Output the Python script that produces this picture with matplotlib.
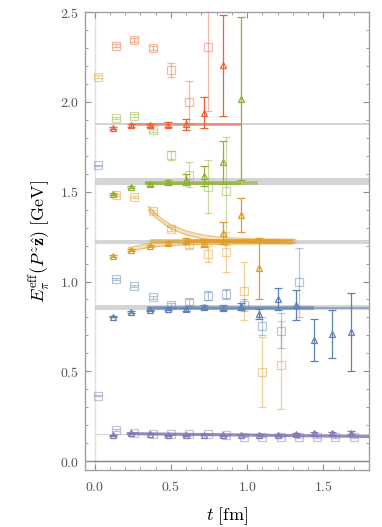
import numpy as np
import matplotlib
matplotlib.use('Agg')
import matplotlib.pyplot as plt
from matplotlib.ticker import MultipleLocator, FuncFormatter

plt.rcParams['mathtext.fontset'] = 'cm'
plt.rcParams['font.family'] = 'serif'

# Time slices (fm): triangles and the shifted squares
t_tri = [0.12, 0.24, 0.36, 0.48, 0.60, 0.72, 0.84, 0.96, 1.08, 1.20, 1.32, 1.44, 1.56, 1.68]
t_sq = [0.02, 0.14, 0.26, 0.38, 0.50, 0.62, 0.74, 0.86, 0.98, 1.10, 1.22, 1.34, 1.46, 1.58, 1.70]

# Red (highest momentum)
red_tri = [1.856, 1.869, 1.869, 1.874, 1.876, 1.941, 2.203]
red_tri_err = [0.006, 0.006, 0.008, 0.015, 0.030, 0.085, 0.280]
red_sq = [2.312, 2.346, 2.300, 2.177, 1.999, 2.307]
red_sq_err = [0.008, 0.010, 0.012, 0.040, 0.116, 0.360]

# Green
green_tri = [1.488, 1.524, 1.542, 1.553, 1.566, 1.589, 1.663, 2.019]
green_tri_err = [0.005, 0.006, 0.008, 0.014, 0.030, 0.056, 0.120, 0.455]
green_sq = [1.911, 1.924, 1.841, 1.702, 1.594, 1.529, 1.505]
green_sq_err = [0.007, 0.008, 0.010, 0.025, 0.070, 0.147, 0.300]

# Orange
orange_tri = [1.143, 1.176, 1.199, 1.212, 1.228, 1.214, 1.270, 1.370, 1.075]
orange_tri_err = [0.005, 0.005, 0.006, 0.008, 0.012, 0.020, 0.060, 0.096, 0.170]
orange_sq = [2.141, 1.483, 1.470, 1.390, 1.293, 1.204, 1.152, 1.162, 0.948, 0.495, 0.535]
orange_sq_err = [0.008, 0.006, 0.007, 0.008, 0.010, 0.020, 0.044, 0.111, 0.160, 0.196, 0.243]

# Blue
blue_tri = [0.805, 0.831, 0.839, 0.846, 0.846, 0.857, 0.855, 0.861, 0.818, 0.904, 0.867, 0.675, 0.709, 0.718]
blue_tri_err = [0.004, 0.004, 0.005, 0.006, 0.008, 0.010, 0.015, 0.020, 0.028, 0.060, 0.083, 0.119, 0.135, 0.216]
blue_sq = [1.646, 1.015, 0.976, 0.913, 0.870, 0.887, 0.922, 0.931, 0.870, 0.753, 0.727, 0.995]
blue_sq_err = [0.005, 0.006, 0.007, 0.009, 0.012, 0.018, 0.025, 0.030, 0.035, 0.050, 0.095, 0.190]

# Purple (zero momentum)
purple_tri = [0.145, 0.156, 0.152, 0.145, 0.145, 0.148, 0.143, 0.148, 0.148, 0.145, 0.152, 0.154, 0.156, 0.158]
purple_tri_err = [0.003, 0.003, 0.003, 0.003, 0.003, 0.004, 0.004, 0.005, 0.005, 0.006, 0.006, 0.007, 0.008, 0.009]
purple_sq = [0.365, 0.174, 0.159, 0.152, 0.149, 0.149, 0.149, 0.145, 0.137, 0.137, 0.137, 0.136, 0.134, 0.133, 0.132]
purple_sq_err = [0.005, 0.004, 0.003, 0.003, 0.003, 0.003, 0.003, 0.003, 0.004, 0.004, 0.004, 0.005, 0.005, 0.005, 0.006]

# Dispersion-relation gray bands (lo, hi)
gray_bands = [(0.147, 0.153), (0.841, 0.869), (1.210, 1.232), (1.538, 1.576), (1.872, 1.880)]

# Constant fit bands: (t_start, t_end, lo, hi)
red_fits = [(0.24, 0.96, 1.866, 1.884)]
green_fits = [(0.33, 0.96, 1.540, 1.556), (0.33, 1.07, 1.537, 1.559)]
orange_fits = [(0.36, 1.30, 1.214, 1.234), (0.60, 1.22, 1.216, 1.238)]
blue_fits = [(0.34, 1.80, 0.845, 0.857), (0.34, 1.44, 0.841, 0.861)]
purple_fit_t = [0.22, 1.80]
purple_fit_v = [0.153, 0.137]

# Orange two-state fit curves
orange_down_t = [0.35, 0.40, 0.45, 0.50, 0.60, 0.70, 0.80, 0.90, 1.00, 1.10, 1.20, 1.32]
orange_down_v = [1.409, 1.367, 1.333, 1.305, 1.271, 1.250, 1.238, 1.232, 1.228, 1.226, 1.225, 1.224]
orange_up_t = [0.22, 0.26, 0.30, 0.36, 0.45, 0.55, 0.70, 0.90, 1.10, 1.30]
orange_up_v = [1.176, 1.185, 1.192, 1.201, 1.209, 1.214, 1.217, 1.219, 1.220, 1.220]

RED = '#EB6235'
GREEN = '#8FB032'
ORANGE = '#E19C24'
BLUE = '#5E81B5'
PURPLE = '#8778B3'


def draw_points(ax, t, e, err, color, marker, alpha, ms):
    ax.errorbar(t[:len(e)], e, yerr=err, fmt=marker, color=color, mfc='none',
                mec=color, ms=ms, mew=0.9, elinewidth=0.9, capsize=3,
                capthick=0.9, alpha=alpha, zorder=4)


def draw_fits(ax, fits, color):
    for t0, t1, lo, hi in fits:
        ax.fill_between([t0, t1], [lo, lo], [hi, hi], color=color,
                        alpha=0.55, lw=0, zorder=3)


fig = plt.figure(figsize=(3.82, 5.27), dpi=100)
ax = fig.add_axes([0.2225, 0.108, 0.7435, 0.869])

ax.set_xlim(-0.064, 1.80)
ax.set_ylim(-0.05, 2.5)

# reference axes lines
ax.axvline(0, color='#e0e0e0', lw=1, zorder=0)
ax.axhline(0, color='#808080', lw=1, zorder=1)

for lo, hi in gray_bands:
    ax.fill_between([0, 1.85], [lo, lo], [hi, hi], color='#c8c8c8',
                    alpha=0.75, lw=0, zorder=1)

draw_fits(ax, red_fits, RED)
draw_fits(ax, green_fits, GREEN)
draw_fits(ax, orange_fits, ORANGE)
draw_fits(ax, blue_fits, BLUE)
ax.plot(purple_fit_t, purple_fit_v, color=PURPLE, lw=2.2, alpha=0.85, zorder=3)

# orange curved fits
for ct, cv in [(orange_down_t, orange_down_v), (orange_up_t, orange_up_v)]:
    ct = np.array(ct)
    cv = np.array(cv)
    ax.fill_between(ct, cv - 0.011, cv + 0.011, color=ORANGE, alpha=0.3, lw=0, zorder=3)
    ax.plot(ct, cv - 0.011, color=ORANGE, lw=0.8, alpha=0.6, zorder=3)
    ax.plot(ct, cv + 0.011, color=ORANGE, lw=0.8, alpha=0.6, zorder=3)

# squares (lighter) then triangles
draw_points(ax, t_sq[1:], red_sq, red_sq_err, RED, 's', 0.45, 6)
draw_points(ax, t_sq[1:], green_sq, green_sq_err, GREEN, 's', 0.45, 6)
draw_points(ax, t_sq, orange_sq, orange_sq_err, ORANGE, 's', 0.45, 6)
draw_points(ax, t_sq, blue_sq, blue_sq_err, BLUE, 's', 0.45, 6)
draw_points(ax, t_sq, purple_sq, purple_sq_err, PURPLE, 's', 0.45, 6)

draw_points(ax, t_tri, red_tri, red_tri_err, RED, '^', 1.0, 5)
draw_points(ax, t_tri, green_tri, green_tri_err, GREEN, '^', 1.0, 5)
draw_points(ax, t_tri, orange_tri, orange_tri_err, ORANGE, '^', 1.0, 5)
draw_points(ax, t_tri, blue_tri, blue_tri_err, BLUE, '^', 1.0, 5)
draw_points(ax, t_tri, purple_tri, purple_tri_err, PURPLE, '^', 1.0, 5)

# frame styling
for sp in ax.spines.values():
    sp.set_color('#a0a0a0')
    sp.set_linewidth(1.0)

ax.xaxis.set_major_locator(MultipleLocator(0.5))
ax.xaxis.set_minor_locator(MultipleLocator(0.1))
ax.yaxis.set_major_locator(MultipleLocator(0.5))
ax.yaxis.set_minor_locator(MultipleLocator(0.1))
fmt = FuncFormatter(lambda v, p: r'$%.1f$' % v)
ax.xaxis.set_major_formatter(fmt)
ax.yaxis.set_major_formatter(fmt)
ax.tick_params(which='both', direction='in', top=True, right=True,
               color='#909090', labelcolor='#555555', labelsize=10)
ax.tick_params(which='major', length=4, width=0.8)
ax.tick_params(which='minor', length=2, width=0.6)
ax.tick_params(axis='x', pad=7)
ax.tick_params(axis='y', pad=4)

ax.set_xlabel(r'$t\ [\mathrm{fm}]$', fontsize=13, labelpad=8)
ax.set_ylabel(r'$E_{\pi}^{\mathrm{eff}}(P^z\hat{\mathbf{z}})\ [\mathrm{GeV}]$',
              fontsize=13, labelpad=6)

fig.savefig('out.png', dpi=100)
